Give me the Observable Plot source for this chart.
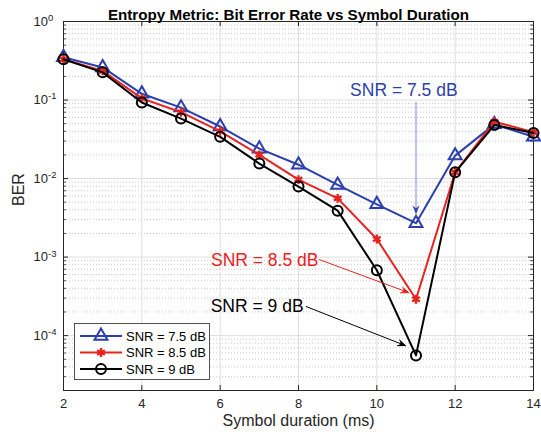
<!DOCTYPE html>
<html><head><meta charset="utf-8">
<script src="https://cdn.jsdelivr.net/npm/d3@7"></script>
<script src="https://cdn.jsdelivr.net/npm/@observablehq/plot@0.6"></script>
<style>body{margin:0;background:#fff;} svg{font-family:"Liberation Sans",Arial,sans-serif;}</style>
</head><body><div id="chart"></div>
<script>
const titleText = "Entropy Metric: Bit Error Rate vs Symbol Duration";
const xLabel = "Symbol duration (ms)";
const yLabel = "BER";
const durations = [2,3,4,5,6,7,8,9,10,11,12,13,14];
const ber75 = [0.35,0.26,0.12,0.08,0.046,0.024,0.015,0.0083,0.0047,0.0027,0.0196,0.049,0.034];
const ber85 = [0.33,0.235,0.105,0.07,0.040,0.020,0.0097,0.0056,0.0017,0.00029,0.012,0.053,0.039];
const ber9  = [0.33,0.225,0.093,0.058,0.034,0.0155,0.0079,0.0039,0.00068,0.000056,0.012,0.048,0.038];
const seriesNames = ["SNR = 7.5 dB","SNR = 8.5 dB","SNR = 9 dB"];
const seriesColors = ["#2b3fae","#e8231f","#000000"];
const seriesSymbols = ["triangle","asterisk","circle"];
const seriesR = [4.8, 4.2, 5];
const xTicks = [2,4,6,8,10,12,14];
const yTicks = [1,1e-1,1e-2,1e-3,1e-4];
const yMinor = [];
for (let k = -5; k <= -1; k++) for (let m = 2; m <= 9; m++) { const v = m * Math.pow(10, k); if (v >= 2e-5) yMinor.push(v); }

// annotations (data coordinates)
const annText = seriesNames;
const annX = [10.69, 8.51, 8.13];
const annY = [0.132, 9.16e-4, 2.38e-4];
const annAnchor = ["middle","end","end"];
const arrX1 = [11, 8.53, 8.2];
const arrY1 = [0.093, 9.3e-4, 2.34e-4];
const arrX2 = [11, 10.81, 10.73];
const arrY2 = [0.0036, 3.53e-4, 7.46e-5];
const arrLineColor = ["#7d87d4","#e8231f","#000000"];

const allSeries = [ber75, ber85, ber9];
const rows = [];
seriesNames.forEach((s,i) => durations.forEach((d,j) => rows.push({series: s, i, x: d, y: allSeries[i][j]})));
const ann = annText.map((t,i) => ({t, x: annX[i], y: annY[i], anchor: annAnchor[i], x1: arrX1[i], y1: arrY1[i], x2: arrX2[i], y2: arrY2[i], lc: arrLineColor[i], c: seriesColors[i]}));

const W = 541, H = 440, ML = 63, MR = 8, MT = 21, MB = 50;
const FW = W - ML - MR, FH = H - MT - MB;
const axisColor = "#262626";

const marks = [
  Plot.ruleY(yMinor, {y: d => d, stroke: "#bdbdbd", strokeDasharray: "1,2", strokeWidth: 0.8}),
  Plot.ruleY(yTicks, {y: d => d, stroke: "#dedede", strokeWidth: 1}),
  Plot.ruleX(xTicks, {x: d => d, stroke: "#dedede", strokeWidth: 1}),
  // inward ticks
  Plot.tickX(xTicks, {x: d => d, stroke: axisColor, insetTop: FH - 5}),
  Plot.tickX(xTicks, {x: d => d, stroke: axisColor, insetBottom: FH - 5}),
  Plot.tickY(yTicks, {y: d => d, stroke: axisColor, insetRight: FW - 5}),
  Plot.tickY(yTicks, {y: d => d, stroke: axisColor, insetLeft: FW - 5}),
  Plot.tickY(yMinor, {y: d => d, stroke: axisColor, insetRight: FW - 3, strokeWidth: 0.8}),
  Plot.tickY(yMinor, {y: d => d, stroke: axisColor, insetLeft: FW - 3, strokeWidth: 0.8}),
  Plot.frame({stroke: axisColor, strokeWidth: 1}),
  // tick labels
  Plot.text(xTicks, {x: d => d, text: d => String(d), frameAnchor: "bottom", dy: 17, fontSize: 13, fill: axisColor}),
  Plot.text(yTicks, {y: d => d, text: d => String(Math.round(Math.log10(d))), frameAnchor: "left", dx: -30, textAnchor: "start", fontSize: 13, fill: axisColor, className: "ytl"}),
  Plot.text([xLabel], {text: d => d, frameAnchor: "bottom", dy: 35, fontSize: 16, fill: axisColor}),
  Plot.text([yLabel], {text: d => d, frameAnchor: "left", dx: -45, rotate: -90, fontSize: 16, fill: axisColor}),
  Plot.text([titleText], {text: d => d, frameAnchor: "top", dy: -12, dx: -10, fontSize: 15.2, fontWeight: "bold", fill: "#000"})
];
seriesNames.forEach((s,i) => {
  const data = rows.filter(r => r.i === i);
  marks.push(Plot.line(data, {x: "x", y: "y", stroke: seriesColors[i], strokeWidth: 2}));
  marks.push(Plot.dot(data, {x: "x", y: "y", symbol: seriesSymbols[i], r: seriesR[i], stroke: seriesColors[i], strokeWidth: i === 1 ? 2.4 : 2, fill: "none"}));
});
marks.push(Plot.arrow(ann, {x1: "x1", y1: "y1", x2: "x2", y2: "y2", stroke: "lc", strokeWidth: 1, headLength: 12, headAngle: 44, className: "annarrow"}));
for (const anchor of ["middle", "end"]) {
  marks.push(Plot.text(ann.filter(d => d.anchor === anchor), {x: "x", y: "y", text: "t", textAnchor: anchor, fill: "c", fontSize: 17.5}));
}

const chart = Plot.plot({
  width: W, height: H,
  marginLeft: ML, marginRight: MR, marginTop: MT, marginBottom: MB,
  style: {fontFamily: "Liberation Sans, Arial, sans-serif", background: "white", overflow: "visible"},
  x: {domain: [2, 14], axis: null},
  y: {type: "log", domain: [2e-5, 1], axis: null},
  marks
});
document.getElementById("chart").appendChild(chart);

const svg = d3.select(chart);
// superscript exponents on y tick labels
svg.selectAll(".ytl text").each(function() {
  const e = this.textContent;
  const t = d3.select(this);
  t.text("10");
  t.append("tspan").attr("dy", "-0.5em").attr("font-size", "9.5").text(e);
});
// filled arrowheads
svg.selectAll(".annarrow path").each(function(_, k) {
  const nums = (this.getAttribute("d").match(/-?\d*\.?\d+(?:e[-+]?\d+)?/g) || []).map(Number);
  if (nums.length < 6) return;
  const [a, b, x2, y2, c, d] = nums.slice(-6);
  const mx = (a + c) / 2, my = (b + d) / 2;
  const nx = x2 + (mx - x2) * 0.7, ny = y2 + (my - y2) * 0.7;
  d3.select(this.parentNode).append("path")
    .attr("d", `M${a},${b}L${x2},${y2}L${c},${d}L${nx},${ny}Z`)
    .attr("fill", seriesColors[k]).attr("stroke", "none");
});
// legend
const symMap = {triangle: d3.symbolTriangle, asterisk: d3.symbolAsterisk, circle: d3.symbolCircle};
const lg = svg.append("g").attr("text-anchor", "start");
lg.append("rect").attr("x", 74.5).attr("y", 323.5).attr("width", 135).attr("height", 56)
  .attr("fill", "white").attr("stroke", axisColor).attr("stroke-width", 0.8);
const legY = [336, 352.5, 369];
seriesNames.forEach((s, i) => {
  lg.append("line").attr("x1", 80).attr("x2", 122).attr("y1", legY[i]).attr("y2", legY[i])
    .attr("stroke", seriesColors[i]).attr("stroke-width", 2);
  lg.append("path").attr("d", d3.symbol(symMap[seriesSymbols[i]], seriesR[i] * seriesR[i] * Math.PI)())
    .attr("transform", `translate(101,${legY[i]})`).attr("fill", "none")
    .attr("stroke", seriesColors[i]).attr("stroke-width", i === 1 ? 2.4 : 2);
  lg.append("text").attr("x", 126).attr("y", legY[i]).attr("dy", "0.35em")
    .attr("text-anchor", "start").attr("font-size", 13).attr("fill", "#000").text(s);
});
</script></body></html>
